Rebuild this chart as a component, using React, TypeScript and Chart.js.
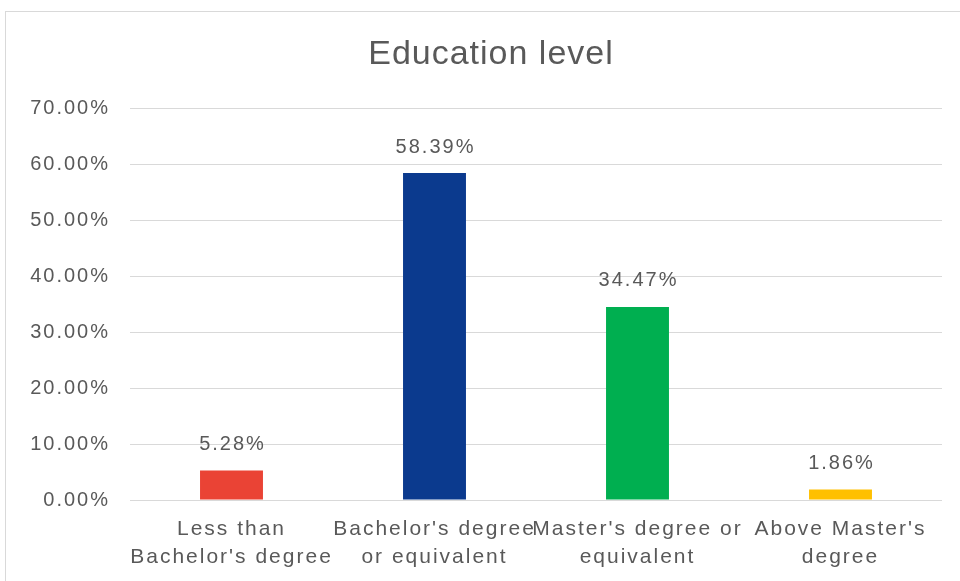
import React, { useEffect, useRef } from "react";
import { Chart, registerables } from "chart.js";

Chart.register(...registerables);

const categories: string[][] = [
  ["Less than", "Bachelor's degree"],
  ["Bachelor's degree", "or equivalent"],
  ["Master's degree or", "equivalent"],
  ["Above Master's", "degree"],
];
const values: number[] = [5.28, 58.39, 34.47, 1.86];
const barColors: string[] = ["#EA4335", "#0B3A8E", "#00AF50", "#FFC000"];
const chartTitle = "Education level";
const yMax = 70;
const yStep = 10;

const TEXT = "#595959";
const FONT = "'Liberation Sans', Arial, sans-serif";

export default function App() {
  const ref = useRef<HTMLCanvasElement | null>(null);

  useEffect(() => {
    if (!ref.current) return;
    const spacing = {
      id: "spacing",
      beforeUpdate(chart: any) {
        chart.ctx.letterSpacing = "2px";
      },
      beforeDraw(chart: any) {
        const ctx = chart.ctx;
        ctx.save();
        ctx.fillStyle = "#ffffff";
        ctx.fillRect(0, 0, chart.width, chart.height);
        ctx.strokeStyle = "#D9D9D9";
        ctx.lineWidth = 1;
        ctx.strokeRect(5.5, 11.5, chart.width, chart.height);
        ctx.restore();
        ctx.letterSpacing = "2px";
      },
      afterDraw(chart: any) {
        const ctx = chart.ctx;
        ctx.save();
        ctx.letterSpacing = "1px";
        ctx.font = `34px ${FONT}`;
        ctx.fillStyle = TEXT;
        ctx.textAlign = "center";
        ctx.textBaseline = "alphabetic";
        ctx.fillText(chartTitle, 491, 64);
        ctx.letterSpacing = "2px";
        ctx.font = `20px ${FONT}`;
        ctx.textBaseline = "middle";
        const meta = chart.getDatasetMeta(0);
        meta.data.forEach((bar: any, i: number) => {
          ctx.fillText(values[i].toFixed(2) + "%", bar.x + 1, bar.y - 26);
        });
        ctx.restore();
      },
    };

    const chart = new Chart(ref.current, {
      type: "bar",
      data: {
        labels: categories,
        datasets: [
          {
            data: values,
            backgroundColor: barColors,
            borderWidth: 0,
            barPercentage: 0.31,
            categoryPercentage: 1,
          },
        ],
      },
      options: {
        animation: false,
        responsive: false,
        layout: { padding: { top: 108, right: 18, bottom: 0, left: 0 } },
        plugins: {
          legend: { display: false },
          title: { display: false },
          tooltip: { enabled: false },
        },
        scales: {
          x: {
            grid: { display: false, drawTicks: false },
            border: { display: false },
            ticks: {
              color: TEXT,
              font: { family: FONT, size: 21, lineHeight: 1.333 },
              padding: 15,
              maxRotation: 0,
              autoSkip: false,
            },
            afterFit(scale: any) {
              scale.height = 81;
            },
          },
          y: {
            min: 0,
            max: yMax,
            grid: { color: "#D9D9D9", drawTicks: false },
            border: { display: false },
            ticks: {
              stepSize: yStep,
              color: TEXT,
              font: { family: FONT, size: 20 },
              padding: 20,
              callback: (v: any) => Number(v).toFixed(2) + "%",
            },
            afterFit(scale: any) {
              scale.width = 130;
            },
          },
        },
      },
      plugins: [spacing],
    } as any);

    return () => chart.destroy();
  }, []);

  return (
    <div style={{ position: "absolute", left: 0, top: 0, width: 960, height: 581, background: "#fff" }}>
      <canvas ref={ref} width={960} height={581} style={{ display: "block" }} />
    </div>
  );
}
